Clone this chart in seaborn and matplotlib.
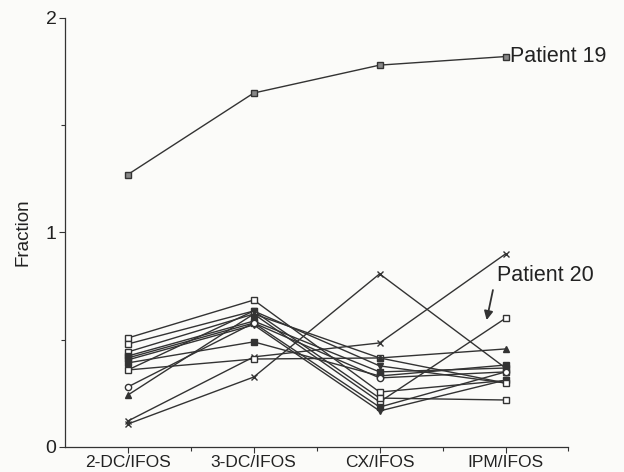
import matplotlib
matplotlib.use("Agg")
import matplotlib.pyplot as plt
import numpy as np
import pandas as pd
import seaborn as sns

# Drug pairs on the x axis
categories = ["2-DC/IFOS", "3-DC/IFOS", "CX/IFOS", "IPM/IFOS"]

# Fraction per patient for each drug pair
patient_19 = [1.27, 1.65, 1.78, 1.82]
patient_20 = [0.443, 0.62, 0.21, 0.60]
patient_a = [0.508, 0.685, 0.256, 0.31]
patient_b = [0.48, 0.634, 0.228, 0.219]
patient_d = [0.424, 0.587, 0.35, 0.368]
patient_e = [0.415, 0.578, 0.186, 0.35]
patient_f = [0.406, 0.569, 0.168, 0.312]
patient_g = [0.392, 0.49, 0.331, 0.382]
patient_h = [0.121, 0.42, 0.485, 0.90]
patient_i = [0.107, 0.326, 0.807, 0.368]
patient_j = [0.359, 0.634, 0.378, 0.298]
patient_k = [0.359, 0.41, 0.415, 0.298]
patient_l = [0.28, 0.578, 0.322, 0.35]
patient_m = [0.242, 0.62, 0.415, 0.457]

y_ticks = [0, 1, 2]

series = [
    ("19", patient_19, "s", "#888888"),
    ("20", patient_20, "s", "none"),
    ("a", patient_a, "s", "none"),
    ("b", patient_b, "s", "none"),
    ("d", patient_d, "s", "#333333"),
    ("e", patient_e, "s", "#333333"),
    ("f", patient_f, "v", "#333333"),
    ("g", patient_g, "s", "#333333"),
    ("h", patient_h, "x", "#333333"),
    ("i", patient_i, "x", "#333333"),
    ("j", patient_j, "v", "#333333"),
    ("k", patient_k, "s", "none"),
    ("l", patient_l, "o", "none"),
    ("m", patient_m, "^", "#333333"),
]

rows = []
for name, vals, _, _ in series:
    for i, v in enumerate(vals):
        rows.append({"patient": name, "pos": i, "fraction": v})
df = pd.DataFrame(rows)

sns.set_theme(style="ticks")
plt.rcParams["font.family"] = ["Liberation Sans", "DejaVu Sans"]

fig = plt.figure(figsize=(6.24, 4.72), dpi=100)
fig.patch.set_facecolor("#fbfbf9")
ax = fig.add_axes([0.104, 0.053, 0.807, 0.909])
ax.set_facecolor("#fbfbf9")

line_color = "#333333"
for name, vals, mk, fc in series:
    sub = df[df["patient"] == name]
    sns.lineplot(data=sub, x="pos", y="fraction", ax=ax, color=line_color,
                 linewidth=1.0, marker=mk, markersize=4.5,
                 markerfacecolor=fc if fc != "none" else "white",
                 markeredgecolor=line_color, markeredgewidth=1.0,
                 legend=False, errorbar=None)

ax.set_xlim(-0.5, 3.5)
ax.set_ylim(0, 2)
ax.set_xticks(range(len(categories)))
ax.set_xticklabels(categories, fontsize=12.5, color="#222222")
ax.set_xticks([0.5, 1.5, 2.5, 3.5], minor=True)
ax.set_yticks(y_ticks)
ax.set_yticklabels([str(t) for t in y_ticks], fontsize=14, color="#222222")
ax.set_yticks([0.5, 1.5], minor=True)
ax.tick_params(axis="both", which="major", length=4, width=0.8, color="#333333", pad=2)
ax.tick_params(axis="both", which="minor", length=3, width=0.8, color="#333333")
ax.set_xlabel("")
ax.set_ylabel("Fraction", fontsize=13.5, color="#222222", labelpad=10)
for side in ["top", "right"]:
    ax.spines[side].set_visible(False)
for side in ["left", "bottom"]:
    ax.spines[side].set_color("#333333")
    ax.spines[side].set_linewidth(0.9)

# Label for the top patient, next to its last point
ax.annotate("Patient 19", xy=(3, patient_19[-1]), xytext=(3, 0),
            textcoords="offset points", ha="left", va="center",
            fontsize=15.5, color="#222222", annotation_clip=False)

# Label and arrow for patient 20, arrow tip just above the last segment
ax.text(2.93, 0.80, "Patient 20", ha="left", va="center",
        fontsize=15.5, color="#222222")
t = 0.85
tip_y = patient_20[2] + t * (patient_20[3] - patient_20[2]) + 0.05
ax.annotate("", xy=(2 + t, tip_y), xytext=(2 + t + 0.05, tip_y + 0.14),
            arrowprops=dict(arrowstyle="-|>", color="#333333", lw=1.3,
                            shrinkA=0, shrinkB=0, mutation_scale=13),
            annotation_clip=False)

fig.savefig("out.png", dpi=100, facecolor=fig.get_facecolor())
